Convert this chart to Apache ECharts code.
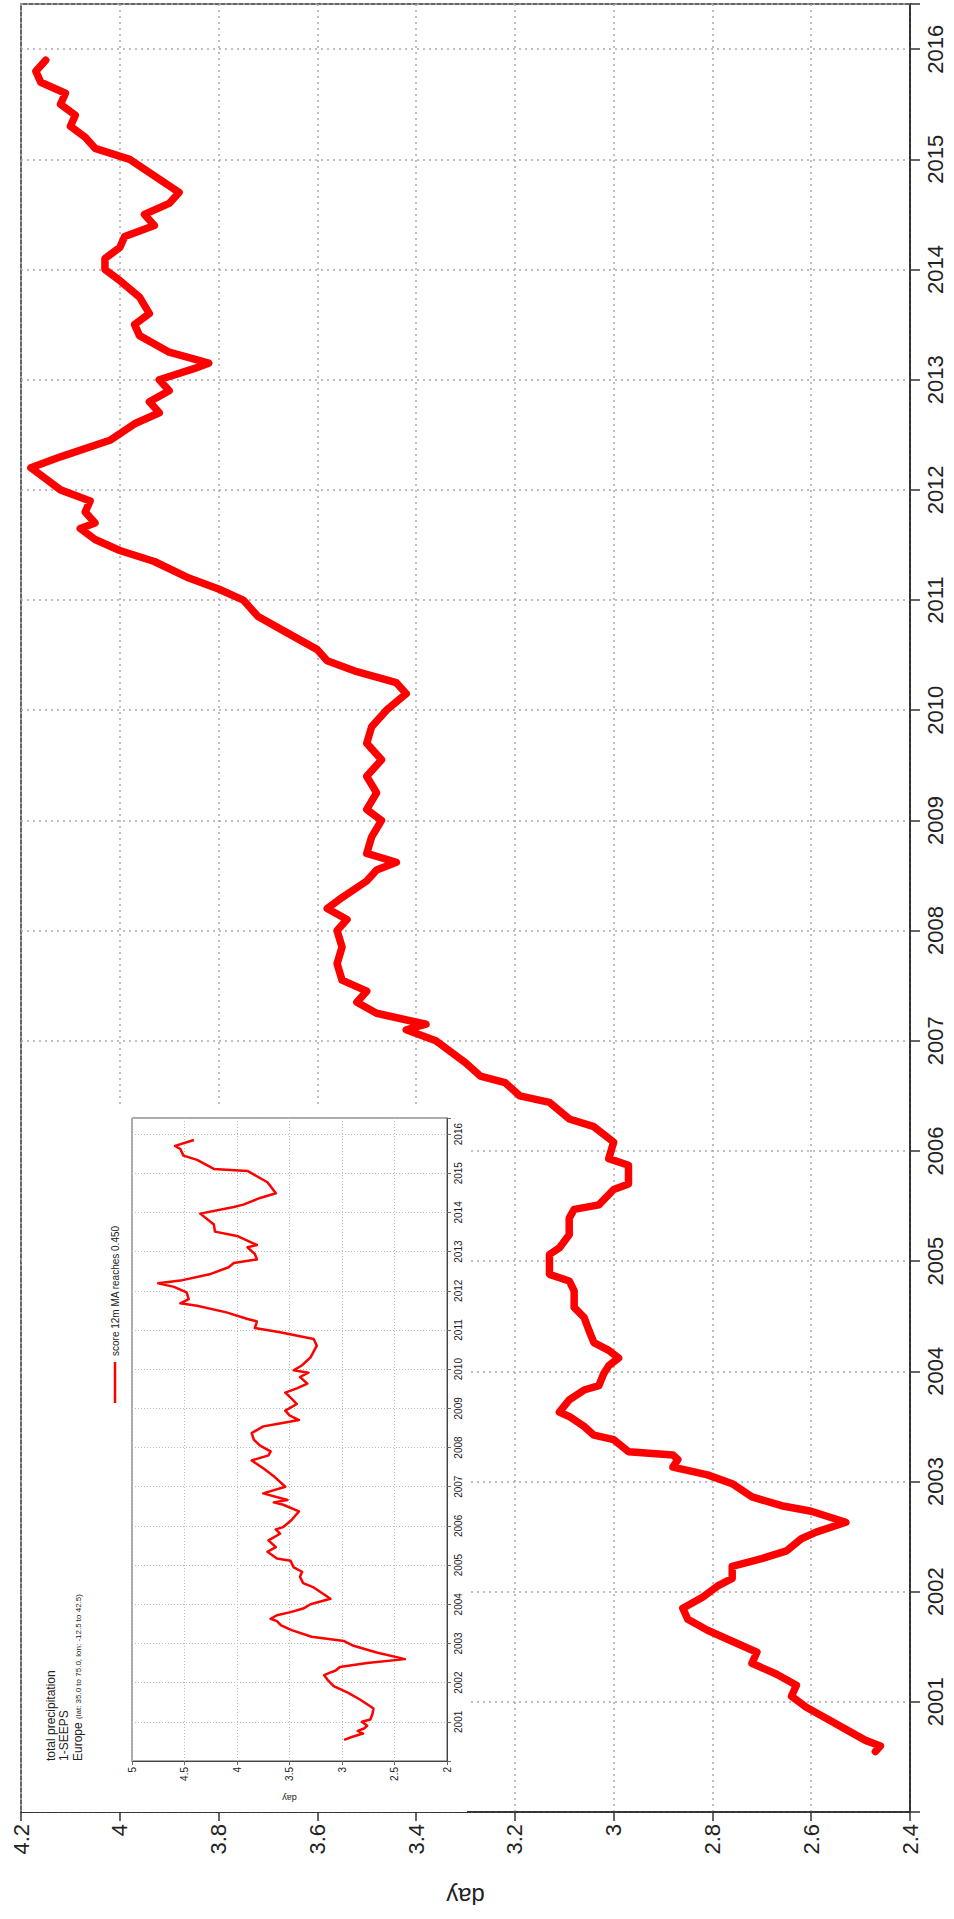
<!DOCTYPE html>
<html>
<head>
<meta charset="utf-8">
<script src="https://cdn.jsdelivr.net/npm/echarts@6/dist/echarts.min.js"></script>
<style>
html, body { margin: 0; padding: 0; background: #fff; }
#main { width: 954px; height: 1919px; }
</style>
</head>
<body>
<div id="main"></div>
<script>
// big chart: 12 month moving average (years as decimal)
var mainYears = [2000.55, 2000.60, 2000.65, 2000.75, 2000.85, 2000.95, 2001.05, 2001.15, 2001.25, 2001.35,
    2001.45, 2001.55, 2001.65, 2001.75, 2001.85, 2001.95, 2002.05, 2002.12, 2002.23, 2002.30,
    2002.37, 2002.48, 2002.54, 2002.63, 2002.73, 2002.78, 2002.86, 2002.98, 2003.06, 2003.13,
    2003.20, 2003.24, 2003.27, 2003.38, 2003.42, 2003.50, 2003.59, 2003.63, 2003.74, 2003.83,
    2003.87, 2003.98, 2004.05, 2004.12, 2004.19, 2004.26, 2004.37, 2004.49, 2004.58, 2004.73,
    2004.82, 2004.88, 2005.00, 2005.06, 2005.12, 2005.24, 2005.39, 2005.47, 2005.51, 2005.65,
    2005.70, 2005.87, 2005.93, 2006.08, 2006.22, 2006.29, 2006.44, 2006.50, 2006.62, 2006.68,
    2006.80, 2006.90, 2007.00, 2007.10, 2007.15, 2007.25, 2007.35, 2007.45, 2007.55, 2007.70,
    2007.85, 2008.00, 2008.10, 2008.20, 2008.30, 2008.45, 2008.55, 2008.62, 2008.70, 2008.85,
    2009.00, 2009.10, 2009.25, 2009.40, 2009.55, 2009.70, 2009.85, 2010.00, 2010.15, 2010.25,
    2010.35, 2010.45, 2010.55, 2010.70, 2010.85, 2011.00, 2011.10, 2011.20, 2011.35, 2011.45,
    2011.55, 2011.65, 2011.70, 2011.80, 2011.90, 2012.00, 2012.10, 2012.20, 2012.30, 2012.45,
    2012.60, 2012.70, 2012.80, 2012.90, 2013.00, 2013.10, 2013.15, 2013.25, 2013.40, 2013.50,
    2013.60, 2013.75, 2013.90, 2014.00, 2014.10, 2014.20, 2014.30, 2014.40, 2014.50, 2014.60,
    2014.70, 2014.85, 2015.00, 2015.10, 2015.20, 2015.30, 2015.40, 2015.50, 2015.60, 2015.70,
    2015.80, 2015.90];
var mainValues = [2.47, 2.46, 2.49, 2.53, 2.57, 2.61, 2.64, 2.63, 2.67, 2.72,
    2.71, 2.76, 2.81, 2.85, 2.86, 2.82, 2.79, 2.76, 2.76, 2.70,
    2.65, 2.62, 2.59, 2.53, 2.60, 2.66, 2.72, 2.76, 2.81, 2.88,
    2.87, 2.88, 2.97, 3.00, 3.04, 3.06, 3.09, 3.11, 3.09, 3.06,
    3.03, 3.02, 3.01, 2.99, 3.01, 3.04, 3.05, 3.06, 3.08, 3.08,
    3.09, 3.13, 3.13, 3.13, 3.11, 3.09, 3.09, 3.08, 3.03, 3.00,
    2.97, 2.97, 3.01, 3.00, 3.04, 3.09, 3.13, 3.19, 3.22, 3.27,
    3.30, 3.33, 3.36, 3.42, 3.38, 3.48, 3.52, 3.50, 3.55, 3.56,
    3.55, 3.56, 3.54, 3.58, 3.55, 3.50, 3.48, 3.44, 3.50, 3.49,
    3.47, 3.50, 3.48, 3.50, 3.47, 3.50, 3.49, 3.46, 3.42, 3.44,
    3.52, 3.58, 3.60, 3.66, 3.72, 3.75, 3.80, 3.86, 3.93, 4.00,
    4.05, 4.08, 4.05, 4.07, 4.06, 4.12, 4.15, 4.18, 4.12, 4.02,
    3.97, 3.92, 3.94, 3.90, 3.92, 3.85, 3.82, 3.90, 3.96, 3.97,
    3.94, 3.96, 4.00, 4.03, 4.03, 4.00, 3.99, 3.93, 3.95, 3.90,
    3.88, 3.93, 3.98, 4.05, 4.07, 4.10, 4.09, 4.12, 4.11, 4.16,
    4.17, 4.15];

// small chart
var insetYears = [2000.54, 2000.62, 2000.70, 2000.77, 2000.83, 2000.90, 2001.00, 2001.06, 2001.20, 2001.34,
    2001.45, 2001.57, 2001.74, 2001.91, 2002.05, 2002.19, 2002.25, 2002.31, 2002.40, 2002.43,
    2002.50, 2002.60, 2002.77, 2002.94, 2003.06, 2003.17, 2003.34, 2003.46, 2003.57, 2003.63,
    2003.72, 2003.80, 2003.89, 2004.00, 2004.14, 2004.25, 2004.43, 2004.54, 2004.70, 2004.83,
    2004.94, 2005.11, 2005.17, 2005.34, 2005.46, 2005.63, 2005.80, 2005.91, 2005.97, 2006.15,
    2006.37, 2006.54, 2006.60, 2006.66, 2006.83, 2007.00, 2007.27, 2007.45, 2007.56, 2007.67,
    2007.80, 2007.90, 2008.05, 2008.20, 2008.37, 2008.54, 2008.60, 2008.70, 2008.82, 2008.94,
    2009.11, 2009.25, 2009.40, 2009.51, 2009.63, 2009.80, 2009.91, 2009.97, 2010.10, 2010.30,
    2010.50, 2010.60, 2010.77, 2010.94, 2011.05, 2011.22, 2011.28, 2011.45, 2011.62, 2011.68,
    2011.79, 2011.96, 2012.10, 2012.19, 2012.26, 2012.43, 2012.60, 2012.71, 2012.80, 2012.94,
    2013.11, 2013.17, 2013.40, 2013.51, 2013.69, 2013.97, 2014.14, 2014.20, 2014.37, 2014.49,
    2014.77, 2015.06, 2015.11, 2015.34, 2015.45, 2015.62, 2015.70, 2015.85];
var insetValues = [2.98, 2.90, 2.80, 2.85, 2.79, 2.76, 2.81, 2.73, 2.71, 2.70,
    2.76, 2.83, 2.94, 3.08, 3.13, 3.17, 3.12, 3.06, 3.02, 2.94,
    2.76, 2.40, 2.67, 2.89, 2.98, 3.29, 3.48, 3.58, 3.62, 3.68,
    3.62, 3.49, 3.37, 3.30, 3.11, 3.17, 3.27, 3.37, 3.40, 3.38,
    3.46, 3.49, 3.62, 3.71, 3.63, 3.70, 3.59, 3.63, 3.56, 3.48,
    3.41, 3.56, 3.65, 3.52, 3.75, 3.54, 3.65, 3.74, 3.80, 3.86,
    3.70, 3.68, 3.78, 3.84, 3.86, 3.75, 3.62, 3.41, 3.50, 3.54,
    3.43, 3.48, 3.54, 3.43, 3.33, 3.40, 3.32, 3.46, 3.38, 3.30,
    3.26, 3.24, 3.27, 3.59, 3.83, 3.81, 3.90, 4.10, 4.38, 4.54,
    4.46, 4.48, 4.60, 4.75, 4.54, 4.25, 4.08, 4.03, 3.81, 3.83,
    3.90, 3.81, 4.00, 4.21, 4.22, 4.35, 4.03, 3.94, 3.78, 3.63,
    3.71, 3.90, 4.22, 4.38, 4.51, 4.54, 4.59, 4.41];

var yearLabels = [2001, 2002, 2003, 2004, 2005, 2006, 2007, 2008, 2009, 2010, 2011, 2012, 2013, 2014, 2015, 2016];
var dayLabels = ['2.4', '2.6', '2.8', '3', '3.2', '3.4', '3.6', '3.8', '4', '4.2'];
var insetDayLabels = ['2', '2.5', '3', '3.5', '4', '4.5', '5'];

var FONT = 'Liberation Sans';

function pairs(xs, ys) {
    var out = [];
    for (var i = 0; i < xs.length; i++) {
        out.push([ys[i], xs[i]]);
    }
    return out;
}

function yearFmt(v) {
    var r = Math.round(v);
    if (Math.abs(v - r) > 1e-6) return '';
    return yearLabels.indexOf(r) >= 0 ? String(r) : '';
}

function dayFmt(list) {
    return function (v) {
        var s = String(Math.round(v * 10) / 10);
        return list.indexOf(s) >= 0 ? s : '';
    };
}

var gridDots = { color: '#aaaaaa', type: [2, 4], width: 1.5 };
var gridDotsSmall = { color: '#bbbbbb', type: [1, 2], width: 1 };

var chartDom = document.getElementById('main');
var myChart = echarts.init(chartDom, null, { renderer: 'svg' });

var option = {
    animation: false,
    backgroundColor: '#fff',
    grid: [{
        left: 21, top: 4, width: 889, height: 1808,
        show: true, borderColor: '#333', borderWidth: 1.5, z: 0
    }, {
        left: 132, top: 1118, width: 315, height: 643,
        show: true, borderColor: '#555', borderWidth: 1, backgroundColor: '#fff', z: 5
    }],
    xAxis: [{
        gridIndex: 0, type: 'value', min: 2.4, max: 4.2, interval: 0.2,
        inverse: true, position: 'bottom', z: 0,
        axisLine: { show: true, onZero: false, lineStyle: { color: '#222', width: 1.5 } },
        axisTick: { show: true, length: 9, lineStyle: { color: '#333', width: 1.5 } },
        axisLabel: { rotate: 90, margin: 12, fontSize: 22, color: '#222', fontFamily: FONT, formatter: dayFmt(dayLabels) },
        splitLine: { show: true, lineStyle: gridDots },
        name: 'day', nameLocation: 'middle', nameGap: 72, nameRotate: 180,
        nameTextStyle: { fontSize: 24, color: '#222', fontFamily: FONT }
    }, {
        gridIndex: 1, type: 'value', min: 2, max: 5, interval: 0.5,
        inverse: true, position: 'bottom', z: 6,
        axisLine: { show: true, onZero: false, lineStyle: { color: '#444', width: 1 } },
        axisTick: { show: true, length: 4, lineStyle: { color: '#666', width: 1 } },
        axisLabel: { rotate: 90, margin: 6, fontSize: 10, color: '#222', fontFamily: FONT, formatter: dayFmt(insetDayLabels) },
        splitLine: { show: true, lineStyle: gridDotsSmall },
        name: 'day', nameLocation: 'middle', nameGap: 32, nameRotate: 180,
        nameTextStyle: { fontSize: 9, color: '#222', fontFamily: FONT }
    }],
    yAxis: [{
        gridIndex: 0, type: 'value', min: 2000, max: 2016.41, interval: 1,
        position: 'right', z: 0,
        axisLine: { show: true, onZero: false, lineStyle: { color: '#222', width: 1.5 } },
        axisTick: { show: true, length: 10, lineStyle: { color: '#333', width: 1.5 } },
        axisLabel: { rotate: 90, margin: 14, fontSize: 22, color: '#222', fontFamily: FONT, formatter: yearFmt },
        splitLine: { show: true, lineStyle: gridDots }
    }, {
        gridIndex: 1, type: 'value', min: 2000, max: 2016.41, interval: 1,
        position: 'right', z: 6,
        axisLine: { show: true, onZero: false, lineStyle: { color: '#444', width: 1 } },
        axisTick: { show: true, length: 4, lineStyle: { color: '#666', width: 1 } },
        axisLabel: { rotate: 90, margin: 6, fontSize: 10, color: '#222', fontFamily: FONT, formatter: yearFmt },
        splitLine: { show: true, lineStyle: gridDotsSmall }
    }],
    graphic: [
        // white box behind the small chart
        { type: 'rect', z: 1, shape: { x: 22, y: 1105, width: 445, height: 707 }, style: { fill: '#fff' } },
        // legend
        { type: 'line', z: 10, shape: { x1: 115, y1: 1362, x2: 115, y2: 1403 }, style: { stroke: '#ff0000', lineWidth: 2.5 } },
        { type: 'text', z: 10, x: 115, y: 1356, rotation: Math.PI / 2,
          style: { text: 'score 12m MA reaches 0.450', fontSize: 10, fill: '#222', fontFamily: FONT, align: 'left', verticalAlign: 'middle' } },
        // small chart title
        { type: 'text', z: 10, x: 51, y: 1761, rotation: Math.PI / 2,
          style: { text: 'total precipitation', fontSize: 12, fill: '#222', fontFamily: FONT, align: 'left', verticalAlign: 'middle' } },
        { type: 'text', z: 10, x: 64, y: 1761, rotation: Math.PI / 2,
          style: { text: '1-SEEPS', fontSize: 12, fill: '#222', fontFamily: FONT, align: 'left', verticalAlign: 'middle' } },
        { type: 'text', z: 10, x: 78, y: 1761, rotation: Math.PI / 2,
          style: {
              text: '{a|Europe} {b|(lat: 35.0 to 75.0, lon: -12.5 to 42.5)}',
              fill: '#222', fontFamily: FONT, align: 'left', verticalAlign: 'middle',
              rich: { a: { fontSize: 12, fontFamily: FONT }, b: { fontSize: 8, fontFamily: FONT } }
          } }
    ],
    series: [{
        name: 'main', type: 'line', xAxisIndex: 0, yAxisIndex: 0, z: 2,
        showSymbol: false, symbol: 'none',
        lineStyle: { color: '#ff0000', width: 7.5, cap: 'round', join: 'round' },
        data: pairs(mainYears, mainValues)
    }, {
        name: 'score 12m MA reaches 0.450', type: 'line', xAxisIndex: 1, yAxisIndex: 1, z: 8,
        showSymbol: false, symbol: 'none',
        lineStyle: { color: '#ff0000', width: 2.5, join: 'round' },
        data: pairs(insetYears, insetValues)
    }]
};

option && myChart.setOption(option);
</script>
</body>
</html>
